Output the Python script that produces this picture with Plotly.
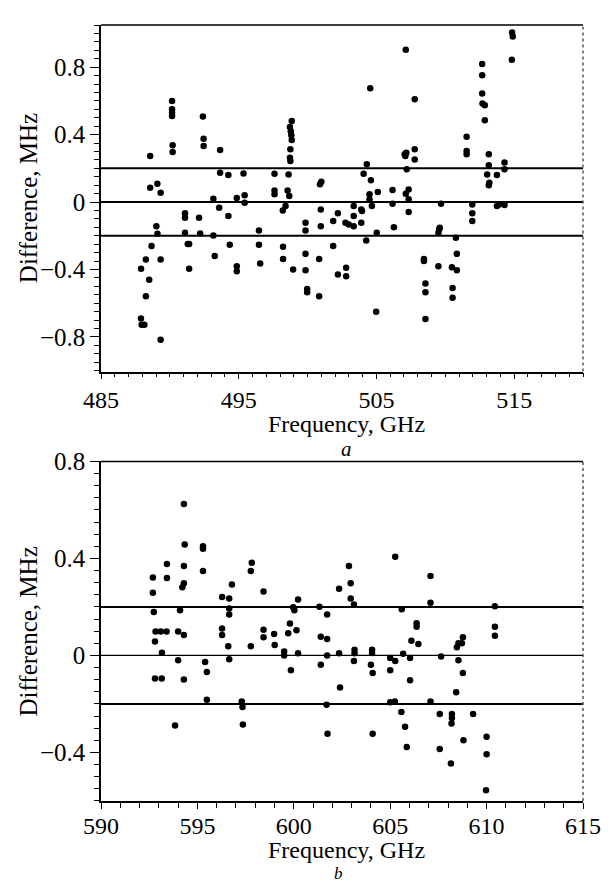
import plotly.graph_objects as go

# ---------------- data (panel a) ----------------
freq_a = [487.91, 488.26, 488.57, 488.57, 488.67, 488.5, 488.26, 487.9, 487.95, 488.15,
          489.09, 489.02, 489.1, 489.33, 489.33, 489.33, 490.16, 490.16, 490.16, 490.16,
          490.2, 490.2, 491.1, 491.1, 491.1, 491.3, 491.4, 491.4, 492.12, 492.2,
          492.4, 492.45, 492.45, 493.16, 493.16, 493.26, 493.58, 493.65, 493.65, 494.25,
          494.25, 494.35, 494.86, 494.86, 494.86, 495.35, 495.43, 495.43, 496.47, 496.47,
          496.56, 497.6, 497.6, 497.6, 498.22, 498.22, 498.2, 498.4, 498.62, 498.55,
          498.67, 498.75, 498.72, 498.75, 498.72, 498.78, 498.82, 498.85, 498.85, 498.95,
          499.85, 499.85, 499.85, 499.85, 499.97, 499.97, 500.84, 500.84, 500.9, 501.0,
          500.96, 500.96, 501.86, 501.86, 502.2, 502.2, 502.75, 502.8, 502.8, 502.99,
          503.35, 503.35, 503.35, 503.9, 503.95, 503.9, 504.07, 504.3, 504.26, 504.55,
          504.5, 504.5, 504.6, 504.67, 505.02, 504.98, 505.1, 506.17, 506.17, 506.27,
          507.13, 507.05, 507.1, 507.17, 507.2, 507.13, 507.34, 507.34, 507.34, 507.78,
          507.78, 507.78, 508.45, 508.45, 508.56, 508.56, 508.56, 509.5, 509.69, 509.5,
          509.55, 509.6, 510.48, 510.53, 510.53, 510.77, 510.84, 510.84, 511.55, 511.55,
          511.55, 511.96, 511.96, 511.96, 512.68, 512.68, 512.68, 512.7, 512.87, 512.87,
          513.16, 513.16, 513.04, 513.2, 513.16, 513.75, 513.75, 513.9, 514.3, 514.3,
          514.3, 514.85, 514.9, 514.83]
diff_a = [-0.396, -0.34, 0.273, 0.085, -0.26, -0.46, -0.558, -0.69, -0.727, -0.727,
          0.109, -0.143, -0.188, 0.055, -0.34, -0.816, 0.6, 0.55, 0.53, 0.51,
          0.337, 0.297, -0.067, -0.093, -0.182, -0.248, -0.248, -0.396, -0.093, -0.186,
          0.507, 0.376, 0.333, 0.02, -0.198, -0.32, -0.034, 0.309, 0.174, 0.16,
          -0.083, -0.253, 0.024, -0.38, -0.41, 0.17, 0.04, -0.004, -0.168, -0.253,
          -0.364, 0.168, 0.069, 0.046, -0.265, -0.337, -0.05, -0.024, 0.164, 0.069,
          0.036, 0.313, 0.263, 0.244, 0.445, 0.42, 0.396, 0.368, 0.48, -0.4,
          -0.123, -0.168, -0.307, -0.404, -0.515, -0.535, -0.337, -0.558, 0.105, 0.12,
          -0.044, -0.143, -0.113, -0.26, -0.067, -0.43, -0.123, -0.39, -0.44, -0.133,
          -0.024, -0.083, -0.143, -0.044, -0.053, -0.123, 0.168, 0.224, -0.228, 0.675,
          0.046, 0.016, 0.129, -0.024, -0.182, -0.651, 0.059, 0.071, -0.01, -0.149,
          0.903, 0.283, 0.273, 0.293, 0.194, 0.05, 0.075, 0.016, -0.059, 0.61,
          0.313, 0.253, -0.337, -0.35, -0.483, -0.535, -0.693, -0.38, -0.01, -0.182,
          -0.162, -0.152, -0.386, -0.509, -0.568, -0.212, -0.307, -0.404, 0.388, 0.303,
          0.283, -0.014, -0.067, -0.113, 0.818, 0.752, 0.644, 0.584, 0.574, 0.485,
          0.283, 0.218, 0.164, 0.115, 0.1, 0.16, -0.024, -0.014, 0.234, 0.194,
          -0.018, 1.006, 0.982, 0.844]

# ---------------- data (panel b) ----------------
freq_b = [592.69, 592.69, 592.74, 592.8, 592.8, 593.15, 592.83, 593.1, 593.4, 593.16,
          593.42, 593.42, 593.84, 594.0, 594.0, 594.1, 594.22, 594.3, 594.3, 594.3,
          594.34, 594.3, 594.3, 595.29, 595.29, 595.29, 595.4, 595.49, 595.49, 596.28,
          596.28, 596.28, 596.6, 596.65, 596.65, 596.65, 596.65, 596.79, 597.3, 597.34,
          597.36, 597.77, 597.77, 597.82, 598.43, 598.43, 598.43, 598.98, 599.01, 599.5,
          599.5, 599.71, 599.8, 599.85, 599.97, 600.03, 600.14, 600.22, 600.22, 601.33,
          601.4, 601.4, 601.73, 601.73, 601.73, 601.7, 601.75, 602.35, 602.35, 602.4,
          602.86, 602.95, 602.95, 603.12, 603.15, 603.15, 603.12, 604.06, 604.06, 604.0,
          604.09, 604.09, 605.0, 605.0, 605.26, 605.26, 605.0, 605.24, 605.6, 605.67,
          605.58, 605.77, 605.86, 606.03, 606.03, 606.1, 606.37, 606.37, 606.46, 607.09,
          607.09, 607.09, 607.57, 607.57, 607.64, 608.15, 608.2, 608.2, 608.18, 608.42,
          608.46, 608.54, 608.54, 608.72, 608.77, 608.77, 608.8, 609.3, 610.0, 610.0,
          609.97, 610.43, 610.43, 610.43]
diff_b = [0.321, 0.258, 0.179, 0.057, -0.095, -0.095, 0.099, 0.099, 0.099, 0.011,
          0.377, 0.319, -0.289, -0.02, 0.099, 0.186, 0.281, 0.298, 0.369, 0.624,
          0.457, 0.084, -0.099, 0.45, 0.44, 0.348, -0.027, -0.068, -0.183, 0.241,
          0.111, 0.084, 0.038, 0.235, 0.194, 0.169, -0.016, 0.292, -0.19, -0.213,
          -0.285, 0.038, 0.348, 0.382, 0.264, 0.106, 0.075, 0.088, 0.043, 0.016,
          0.0, 0.091, 0.132, -0.061, 0.199, 0.186, 0.104, 0.231, 0.009, 0.201,
          0.077, -0.038, 0.169, 0.068, 0.0, -0.203, -0.323, 0.275, 0.009, -0.132,
          0.369, 0.298, 0.235, 0.21, 0.023, 0.009, -0.023, 0.023, 0.01, -0.038,
          -0.072, -0.323, -0.011, -0.061, 0.407, -0.023, -0.193, -0.19, 0.19, 0.007,
          -0.233, -0.294, -0.377, -0.011, -0.102, 0.061, 0.133, 0.118, 0.047, 0.328,
          0.217, -0.19, -0.241, -0.386, -0.004, -0.445, -0.241, -0.258, -0.28, -0.152,
          0.034, 0.05, -0.02, 0.05, 0.075, -0.072, -0.35, -0.241, -0.335, -0.407,
          -0.556, 0.203, 0.118, 0.081]

ref_levels = [-0.2, 0.0, 0.2]
x_title = "Frequency, GHz"
y_title = "Difference, MHz"
panel_labels = ["a", "b"]

FONT = "Liberation Serif, Times New Roman, serif"
W, H = 613, 885
ML, MR, MT, MB = 101, 21, 15, 84
PW = W - ML - MR
PH = H - MT - MB


def py(pix):
    return (H - MB - pix) / PH


def px(pix):
    return (pix - ML) / PW


fig = go.Figure()
marker = dict(color="black", size=6.5, line=dict(width=0))
fig.add_trace(go.Scatter(x=freq_a, y=diff_a, mode="markers", marker=marker,
                         xaxis="x", yaxis="y", showlegend=False, hoverinfo="skip"))
fig.add_trace(go.Scatter(x=freq_b, y=diff_b, mode="markers", marker=marker,
                         xaxis="x2", yaxis="y2", showlegend=False, hoverinfo="skip"))

xtickfont = dict(family=FONT, size=24, color="black")
ytickfont = dict(family=FONT, size=25, color="black")
common_x = dict(showgrid=False, zeroline=False, showline=True, linecolor="black",
                linewidth=1.5, ticks="outside", tickcolor="black", tickwidth=1.2,
                ticklen=6, tickfont=xtickfont, mirror=False)
common_y = dict(showgrid=False, zeroline=False, showline=True, linecolor="black",
                linewidth=1.5, ticks="outside", tickcolor="black", tickwidth=1.2,
                ticklen=9, tickfont=ytickfont, mirror=False)

dom_a = [py(366), py(15)]
dom_b = [py(801), py(457)]

fig.update_layout(
    width=W, height=H,
    margin=dict(l=ML, r=MR, t=MT, b=MB, pad=0),
    paper_bgcolor="white", plot_bgcolor="white",
    xaxis=dict(common_x, domain=[0, 1], anchor="y", range=[485, 520],
               tick0=485, dtick=10,
               minor=dict(dtick=1, tick0=485, ticks="outside", ticklen=4,
                          tickcolor="black", tickwidth=1)),
    yaxis=dict(common_y, domain=dom_a, anchor="x", range=[-1.005, 1.05],
               tick0=0, dtick=0.4,
               minor=dict(dtick=0.05, tick0=0, ticks="outside", ticklen=5,
                          tickcolor="black", tickwidth=1)),
    xaxis2=dict(common_x, domain=[0, 1], anchor="y2", range=[590, 615],
                tick0=590, dtick=5, ticklabelstandoff=-4,
                minor=dict(dtick=1, tick0=590, ticks="outside", ticklen=5,
                           tickcolor="black", tickwidth=1)),
    yaxis2=dict(common_y, domain=dom_b, anchor="x2", range=[-0.6, 0.8],
                tick0=0, dtick=0.4,
                minor=dict(dtick=0.05, tick0=0, ticks="outside", ticklen=5,
                           tickcolor="black", tickwidth=1)),
)
fig.update_yaxes(tickformat="~g")

shapes = []
for xr, yr, widths in (("x", "y", (2, 2, 2)), ("x2", "y2", (2, 1.3, 2))):
    for lvl, w in zip(ref_levels, widths):
        shapes.append(dict(type="line", xref=f"{xr} domain", yref=yr, x0=0, x1=1,
                           y0=lvl, y1=lvl, line=dict(color="black", width=w)))
    shapes.append(dict(type="line", xref=f"{xr} domain", yref=f"{yr} domain",
                       x0=0, x1=1, y0=1, y1=1, line=dict(color="black", width=1.5)))
    shapes.append(dict(type="line", xref=f"{xr} domain", yref=f"{yr} domain",
                       x0=1, x1=1, y0=0, y1=1,
                       line=dict(color="#555555", width=1.5, dash="dot")))
fig.update_layout(shapes=shapes)

tfont = dict(family=FONT, size=24, color="black")
ytfont = dict(family=FONT, size=25, color="black")
lfont_a = dict(family=FONT, size=21, color="black", style="italic")
lfont_b = dict(family=FONT, size=17, color="black", style="italic")
ann = [
    dict(text=x_title, x=px(351), y=py(419), font=tfont),
    dict(text=panel_labels[0], x=px(351), y=py(444), font=lfont_a),
    dict(text=x_title, x=px(351), y=py(850.5), font=tfont),
    dict(text=panel_labels[1], x=px(343), y=py(874), font=lfont_b),
    dict(text=y_title, x=px(27), y=py(190), font=ytfont, textangle=-90),
    dict(text=y_title, x=px(27), y=py(629), font=ytfont, textangle=-90),
]
for a in ann:
    a.update(xref="paper", yref="paper", showarrow=False, xanchor="center",
             yanchor="middle", borderpad=0)
fig.update_layout(annotations=ann)

# remove the browser's default 8px body margin so the figure sits flush
fig.write_html("out.html",
               config={"displayModeBar": False},
               post_script="document.body.style.margin='0';"
                           "document.body.style.overflow='hidden';")
